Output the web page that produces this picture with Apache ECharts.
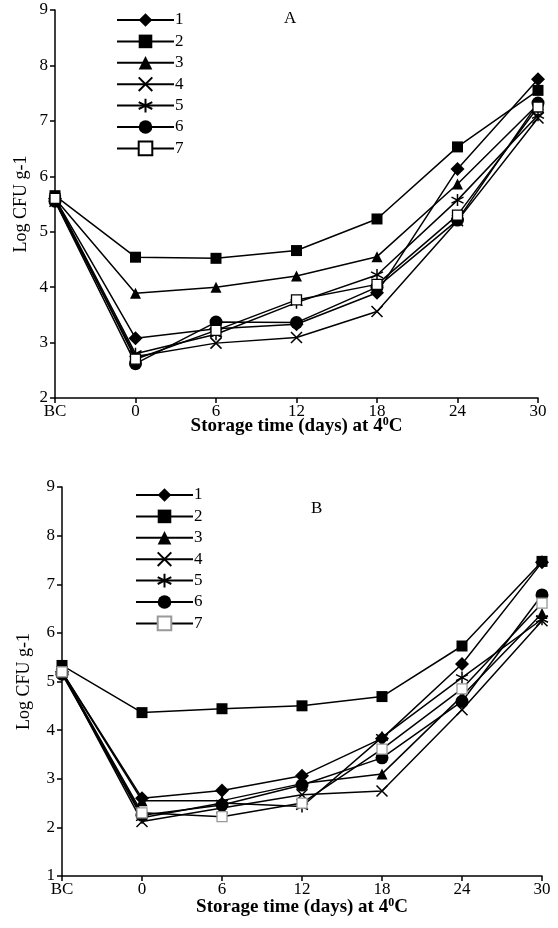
<!DOCTYPE html>
<html>
<head>
<meta charset="utf-8">
<script src="https://cdn.jsdelivr.net/npm/echarts@6/dist/echarts.min.js"></script>
<style>
html,body{margin:0;padding:0;background:#fff;}
#c{width:558px;height:928px;}
</style>
</head>
<body>
<div id="c"></div>
<script>
const categories = ['BC', '0', '6', '12', '18', '24', '30'];
const seriesNames = ['1', '2', '3', '4', '5', '6', '7'];

// Panel A (Log CFU g-1)
const a1 = [5.60, 3.08, 3.25, 3.33, 3.90, 6.13, 7.75];
const a2 = [5.65, 4.54, 4.52, 4.66, 5.23, 6.53, 7.55];
const a3 = [5.60, 3.89, 4.00, 4.20, 4.55, 5.86, 7.30];
const a4 = [5.55, 2.75, 2.99, 3.09, 3.56, 5.20, 7.05];
const a5 = [5.60, 2.80, 3.15, 3.72, 4.22, 5.57, 7.10];
const a6 = [5.55, 2.62, 3.37, 3.36, 4.00, 5.21, 7.32];
const a7 = [5.60, 2.70, 3.22, 3.77, 4.05, 5.30, 7.25];

// Panel B (Log CFU g-1)
const b1 = [5.20, 2.60, 2.76, 3.06, 3.83, 5.36, 7.45];
const b2 = [5.33, 4.36, 4.44, 4.50, 4.69, 5.73, 7.47];
const b3 = [5.20, 2.55, 2.55, 2.90, 3.10, 4.70, 6.40];
const b4 = [5.20, 2.12, 2.40, 2.67, 2.75, 4.42, 6.25];
const b5 = [5.20, 2.20, 2.50, 2.43, 3.85, 5.08, 6.28];
const b6 = [5.15, 2.25, 2.46, 2.87, 3.43, 4.59, 6.78];
const b7 = [5.20, 2.30, 2.22, 2.50, 3.61, 4.85, 6.61];

const yTicksA = {min: 2, max: 9, interval: 1};
const yTicksB = {min: 1, max: 9, interval: 1};

const FONT = '"Liberation Serif", "DejaVu Serif", serif';

const symX = 'path://M0,0L10,10M10,0L0,10';
const symStar = 'path://M5,0L5,10M0.7,2.5L9.3,7.5M0.7,7.5L9.3,2.5';

function styles(panel) {
  return [
    {symbol: 'diamond', symbolSize: 14, itemStyle: {color: '#000'}},
    {symbol: 'rect', symbolSize: 11, itemStyle: {color: '#000'}},
    {symbol: 'triangle', symbolSize: 11, itemStyle: {color: '#000'}},
    {symbol: symX, symbolSize: 11, itemStyle: {color: '#000', borderColor: '#000', borderWidth: 1.5}},
    {symbol: symStar, symbolSize: 12, itemStyle: {color: '#000', borderColor: '#000', borderWidth: 1.5}},
    {symbol: 'circle', symbolSize: 13, itemStyle: {color: '#000'}},
    {symbol: 'rect', symbolSize: 10, itemStyle: {color: '#fff', borderColor: panel === 'A' ? '#000' : '#999', borderWidth: 1.3}}
  ];
}

const dataA = [a1, a2, a3, a4, a5, a6, a7];
const dataB = [b1, b2, b3, b4, b5, b6, b7];

const series = [];
['A', 'B'].forEach((p, pi) => {
  const st = styles(p);
  const data = p === 'A' ? dataA : dataB;
  data.forEach((d, i) => {
    series.push(Object.assign({
      name: p + seriesNames[i],
      type: 'line',
      xAxisIndex: pi,
      yAxisIndex: pi,
      data: d,
      lineStyle: {color: '#000', width: 1.5},
      emphasis: {disabled: true},
      animation: false
    }, st[i]));
  });
});

function xAxis(gridIndex, nameGap) {
  return {
    type: 'category', gridIndex, data: categories, boundaryGap: false,
    axisLine: {lineStyle: {color: '#000', width: 1.5}},
    axisTick: {show: true, inside: false, length: 5, alignWithLabel: true, lineStyle: {color: '#000', width: 1.5}},
    axisLabel: {color: '#000', fontFamily: FONT, fontSize: 17, margin: 5},
    splitLine: {show: false},
    name: '{b|Storage time (days) at 4}{s|0}{b|C}',
    nameLocation: 'middle', nameGap: nameGap, nameMoveOverlap: false,
    nameTextStyle: {
      rich: {
        b: {fontFamily: FONT, fontWeight: 'bold', fontSize: 19, color: '#000'},
        s: {fontFamily: FONT, fontWeight: 'bold', fontSize: 12, color: '#000', verticalAlign: 'top', padding: [0, 0, 8, 0]}
      }
    }
  };
}

function yAxis(gridIndex, t, nameGap) {
  return {
    type: 'value', gridIndex, min: t.min, max: t.max, interval: t.interval,
    axisLine: {show: true, lineStyle: {color: '#000', width: 1.5}},
    axisTick: {show: true, inside: false, length: 5, lineStyle: {color: '#000', width: 1.5}},
    axisLabel: {color: '#000', fontFamily: FONT, fontSize: 17, margin: 7},
    splitLine: {show: false},
    name: 'Log CFU g-1', nameLocation: 'middle', nameGap: nameGap, nameMoveOverlap: false,
    nameTextStyle: {fontFamily: FONT, fontSize: 18, color: '#000'}
  };
}

function legend(prefix, left, top) {
  return {
    data: seriesNames.map(n => prefix + n),
    formatter: n => n.slice(1),
    orient: 'vertical', left, top,
    itemWidth: 57, itemHeight: 17, itemGap: 4.4,
    selectedMode: false, padding: 0,
    textStyle: {fontFamily: FONT, fontSize: 17, color: '#000', padding: [0, 0, 0, -4]}
  };
}

const chart = echarts.init(document.getElementById('c'), null, {renderer: 'canvas'});
chart.setOption({
  animation: false,
  backgroundColor: '#fff',
  title: [
    {text: 'A', left: 284, top: 10, padding: 0, textStyle: {fontFamily: FONT, fontSize: 17, fontWeight: 'normal', color: '#000'}},
    {text: 'B', left: 311, top: 500, padding: 0, textStyle: {fontFamily: FONT, fontSize: 17, fontWeight: 'normal', color: '#000'}}
  ],
  grid: [
    {left: 55, top: 10, width: 483, height: 388},
    {left: 62, top: 487, width: 480, height: 389}
  ],
  xAxis: [xAxis(0, 18), xAxis(1, 21)],
  yAxis: [yAxis(0, yTicksA, 25), yAxis(1, yTicksB, 29)],
  legend: [legend('A', 116, 11.5), legend('B', 135, 486.5)],
  series
});
</script>
</body>
</html>
